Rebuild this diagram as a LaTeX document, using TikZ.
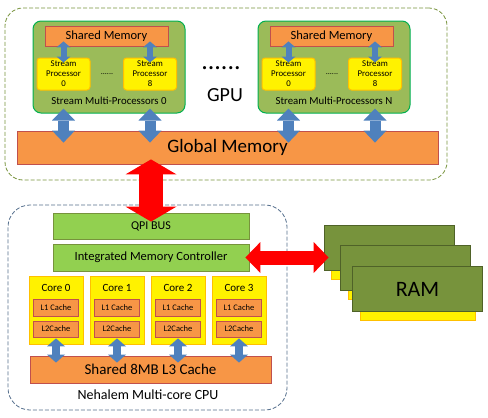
\documentclass[tikz,border=0pt]{standalone}
\usepackage{fontspec}
\setmainfont{Carlito}
\usetikzlibrary{arrows.meta}
\definecolor{smgreen}{RGB}{155,187,89}
\definecolor{smborder}{RGB}{0,176,80}
\definecolor{ltgreen}{RGB}{146,208,80}
\definecolor{ltborder}{RGB}{119,147,60}
\definecolor{ramgreen}{RGB}{119,147,60}
\definecolor{ramborder}{RGB}{79,98,40}
\definecolor{orng}{RGB}{247,150,70}
\definecolor{orborder}{RGB}{192,80,77}
\definecolor{yborder}{RGB}{255,192,0}
\definecolor{bluefill}{RGB}{79,129,189}
\definecolor{gpudash}{RGB}{119,147,60}
\definecolor{cpudash}{RGB}{84,110,140}
\tikzstyle{gpubox}=[draw=gpudash,dash pattern=on 4pt off 2pt,line width=0.8pt,rounded corners=18pt,minimum width=442pt,minimum height=172pt]
\tikzstyle{cpubox}=[draw=cpudash,dash pattern=on 4pt off 2pt,line width=0.8pt,rounded corners=22pt,minimum width=279pt,minimum height=205pt]
\tikzstyle{smbox}=[draw=smborder,fill=smgreen,line width=1pt,rounded corners=8pt,minimum width=152pt,minimum height=92pt]
\tikzstyle{orangebox}=[draw=orborder,fill=orng,line width=0.8pt,inner sep=0pt]
\tikzstyle{spbox}=[draw=yborder,fill=yellow,line width=1pt,rounded corners=3pt,minimum width=53pt,minimum height=32pt,inner sep=0pt,align=center,font=\fontsize{8.8}{10}\selectfont]
\tikzstyle{greenbar}=[draw=ltborder,fill=ltgreen,line width=0.8pt,minimum width=196pt,inner sep=0pt]
\tikzstyle{corebox}=[draw=yborder,fill=yellow,line width=0.8pt,minimum width=54pt,minimum height=68pt]
\tikzstyle{cachebox}=[orangebox,minimum width=45pt,font=\fontsize{8.5}{10}\selectfont]
\tikzstyle{ramcard}=[draw=ramborder,fill=ramgreen,line width=0.8pt,minimum width=130pt,minimum height=45pt]
\tikzstyle{ramstrip}=[draw=yborder,fill=yellow,line width=0.5pt,minimum width=115pt,minimum height=9pt]
\tikzstyle{arrowsp}=[draw=bluefill,line width=6pt,>={Triangle[length=6pt,width=14pt,line width=0pt]},<->]
\tikzstyle{arrowsm}=[draw=bluefill,line width=11pt,>={Triangle[length=12pt,width=23pt,line width=0pt]},<->]
\tikzstyle{arrowcore}=[draw=bluefill,line width=8pt,>={Triangle[length=8pt,width=18pt,line width=0pt]},<->]
\tikzstyle{arrowredv}=[draw=red,line width=24pt,>={Triangle[length=15pt,width=51pt,line width=0pt]},<->]
\tikzstyle{arrowredh}=[draw=red,line width=14pt,>={Triangle[length=15pt,width=31pt,line width=0pt]},<->]

\begin{document}
\begin{tikzpicture}[x=1pt,y=-1pt]
    \useasboundingbox (0,0) rectangle (488,418);
    % GPU side
    \node[gpubox] (gpu) at (226,94) {};
    \foreach \n/\x/\lbl in {0/109/0,1/334/N} {
        \node[smbox] (sm\n) at (\x,67) {};
        \node[orangebox,minimum width=123pt,minimum height=20pt,font=\fontsize{12.5}{14}\selectfont] (sh\n) at (\x-2.5,36) {Shared Memory};
        \node[spbox] (sp\n0) at (\x-45.5,74) {Stream\\Processor\\0};
        \node[spbox] (sp\n8) at (\x+41,74) {Stream\\Processor\\8};
        \node[font=\fontsize{8}{9}\selectfont] (dots\n) at (\x-2,74) {......};
        \node[font=\fontsize{10.8}{12}\selectfont] (smlbl\n) at (\x,101) {Stream Multi-Processors \lbl};
    }
    \node[orangebox,minimum width=421pt,minimum height=33pt,font=\fontsize{19}{22}\selectfont] (gmem) at (227.5,147.5) {Global Memory};
    \node[anchor=base,font=\fontsize{26}{30}\selectfont] (gpudots) at (221,69) {......};
    \node[font=\fontsize{20}{24}\selectfont] (gpulbl) at (225,95) {GPU};

    \foreach \n in {0,1}
    \foreach \k in {0,8} {
        \draw[arrowsp] ([yshift=5pt]sp\n\k.north |- sh\n.south) -- ([yshift=-5pt]sp\n\k.north);
        \draw[arrowsm] ([yshift=5pt]sp\n\k.south |- sm\n.south) -- ([yshift=-12pt]sp\n\k.south |- gmem.north);
    }

    % CPU side
    \node[cpubox] (cpu) at (147.5,307.5) {};
    \node[greenbar,minimum height=26pt,font=\fontsize{12}{14}\selectfont] (qpi) at (151,226) {QPI BUS};
    \node[greenbar,minimum height=27pt,font=\fontsize{12.5}{15}\selectfont] (imc) at (151,257.5) {Integrated Memory Controller};
    \node[orangebox,minimum width=241pt,minimum height=27pt,font=\fontsize{15}{18}\selectfont] (lthree) at (150.5,369.5) {Shared 8MB L3 Cache};
    \foreach \i in {0,...,3} {
        \node[corebox] (core\i) at ({56+61*\i},310) {};
        \node[font=\fontsize{11}{13}\selectfont] (corelbl\i) at ({56+61*\i},288) {Core \i};
        \node[cachebox,minimum height=17pt] (lone\i) at ({56+61*\i},307.5) {L1 Cache};
        \node[cachebox,minimum height=16pt] (ltwo\i) at ({56+61*\i},329) {L2Cache};
        \draw[arrowcore] ([yshift=6pt]core\i.south) -- ([yshift=-7pt]core\i.south |- lthree.north);
    }
    \node[font=\fontsize{14}{17}\selectfont] (cpulbl) at (148,395) {Nehalem Multi-core CPU};

    % RAM
    \foreach \r/\x/\y in {1/389/247.5,2/405.5/267.5,3/417.5/289} {
        \node[ramstrip] (strip\r) at (\x,\y+27) {};
        \node[ramcard] (ram\r) at (\x,\y) {};
    }
    \node[font=\fontsize{22}{26}\selectfont] (ramlbl) at (ram3) {RAM};

    \draw[arrowredv] ([yshift=5pt]qpi.north |- gmem.south) -- ([yshift=-9pt]qpi.north);
    \draw[arrowredh] ([xshift=-4pt]imc.east) -- ([xshift=5pt]imc.east -| ram1.west);
\end{tikzpicture}
\end{document}
